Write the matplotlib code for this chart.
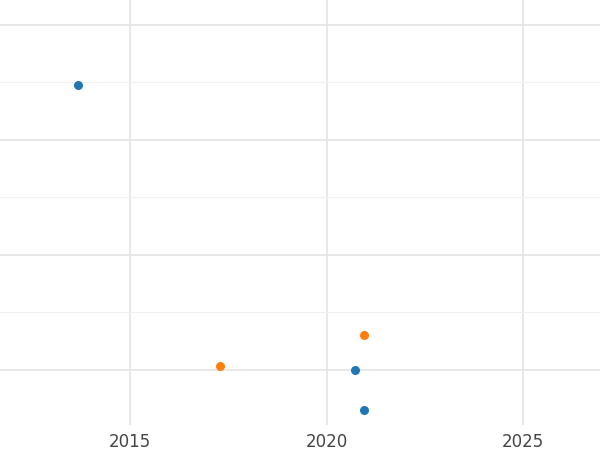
import matplotlib
matplotlib.use("Agg")
import matplotlib.pyplot as plt
from matplotlib.ticker import MultipleLocator

# data (y in arbitrary units; no y labels shown)
blue_x = [2013.67, 2020.72, 2020.95]
blue_y = [2.48, 0.0, -0.35]
orange_x = [2017.29, 2020.95]
orange_y = [0.03, 0.30]

fig = plt.figure(figsize=(6, 4.5), dpi=100)
ax = fig.add_axes([0, 0.056, 1, 0.944])
ax.scatter(blue_x, blue_y, color="#1f77b4", s=30, zorder=3)
ax.scatter(orange_x, orange_y, color="#ff7f0e", s=30, zorder=3)

ax.set_xlim(2011.69, 2026.96)
ax.set_ylim(-0.478, 3.217)
ax.xaxis.set_major_locator(MultipleLocator(5))
ax.yaxis.set_major_locator(MultipleLocator(1))
ax.yaxis.set_minor_locator(MultipleLocator(0.5))
ax.grid(which="major", color="#e6e6e6", linewidth=1.3)
ax.grid(which="minor", axis="y", color="#f0f0f0", linewidth=0.8)
ax.set_axisbelow(True)
for s in ax.spines.values():
    s.set_visible(False)
ax.tick_params(axis="both", which="both", length=0)
ax.tick_params(axis="x", labelsize=12, labelcolor="#444444", pad=6)
ax.set_yticklabels([])
fig.savefig("out.png", dpi=100)
